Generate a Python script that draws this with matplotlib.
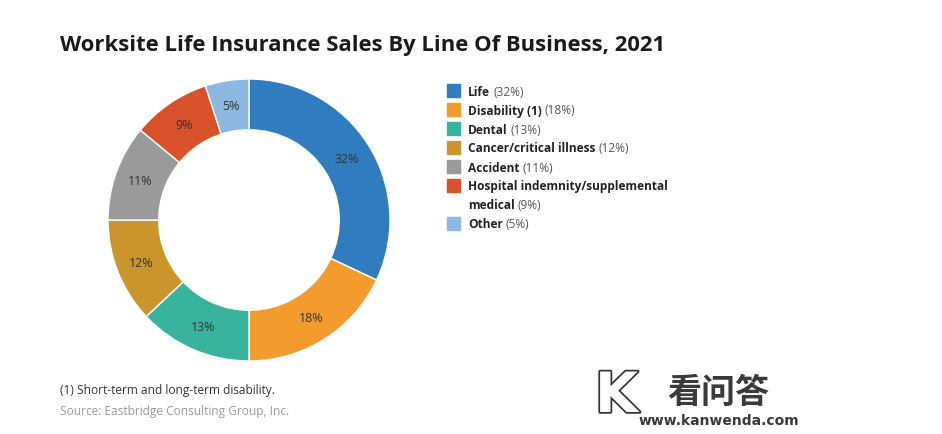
import matplotlib.pyplot as plt
import matplotlib as mpl
import matplotlib.patches as mpatches
import matplotlib.patheffects as pe

# data
labels = ["Life", "Disability (1)", "Dental", "Cancer/critical illness",
          "Accident", "Hospital indemnity/supplemental\nmedical", "Other"]
shares = [32, 18, 13, 12, 11, 9, 5]
colors = ["#2f7dc0", "#f39b2c", "#38b39d", "#c9952c", "#9a9a9a", "#d8512b", "#8db8e1"]

W, H = 942, 435
fig = plt.figure(figsize=(W / 100, H / 100), dpi=100, facecolor="white")

# donut
cx, cy, r = 249, 221, 141
ax = fig.add_axes([(cx - r) / W, (H - cy - r) / H, 2 * r / W, 2 * r / H])
ax.set_aspect("equal")
wedges, texts = ax.pie(shares, colors=colors, startangle=90, counterclock=False,
                       radius=1.0, labels=[f"{v}%" for v in shares], labeldistance=0.82,
                       wedgeprops=dict(width=0.36, edgecolor="white", linewidth=1),
                       textprops=dict(fontsize=9, color="#333333", family="Open Sans",
                                      ha="center", va="center"))
ax.set_xlim(-1, 1)
ax.set_ylim(-1, 1)
ax.axis("off")

# title
fig.text(60 / W, 1 - 46 / H, "Worksite Life Insurance Sales By Line Of Business, 2021",
         fontsize=15.8, fontweight="bold", family="Open Sans", color="#1a1a1a",
         va="center", ha="left")

# legend
renderer = fig.canvas.get_renderer()
y = 92
for lab, v, c in zip(labels, shares, colors):
    fig.patches.append(mpatches.Rectangle((447 / W, 1 - (y + 6) / H), 13 / W, 13 / H,
                                          transform=fig.transFigure, color=c))
    lines = lab.split("\n")
    for i, line in enumerate(lines):
        yy = y + i * 19
        t = fig.text(468 / W, 1 - yy / H, line, fontsize=8.6, fontweight="bold",
                     family="Open Sans", color="#222222", va="center", ha="left")
        if i == len(lines) - 1:
            bb = t.get_window_extent(renderer)
            fig.text((bb.x1 + 3) / W, 1 - yy / H, f"({v}%)", fontsize=8.6,
                     family="Open Sans", color="#555555", va="center", ha="left")
    y += 19 * len(lines)

# footnotes
fig.text(60 / W, 1 - 391 / H, "(1) Short-term and long-term disability.", fontsize=8.6,
         family="Open Sans", color="#333333", va="center", ha="left")
fig.text(60 / W, 1 - 412 / H, "Source: Eastbridge Consulting Group, Inc.", fontsize=8.6,
         family="Open Sans", color="#9a9a9a", va="center", ha="left")

# watermark
fig.text(595 / W, 1 - 398 / H, "K", fontsize=40, fontweight="bold", family="DejaVu Sans",
         color="white", va="center", ha="left",
         path_effects=[pe.withStroke(linewidth=2.5, foreground="#333333")])
fig.text(667 / W, 1 - 392 / H, "看问答", fontsize=24.5, fontweight="bold",
         family="Noto Sans CJK SC", color="#3a3a3a", va="center", ha="left")
fig.text(639 / W, 1 - 421 / H, "www.kanwenda.com", fontsize=10, fontweight="bold",
         family="DejaVu Sans", color="#3a3a3a", va="center", ha="left")

fig.savefig("out.png", dpi=100, facecolor="white")
